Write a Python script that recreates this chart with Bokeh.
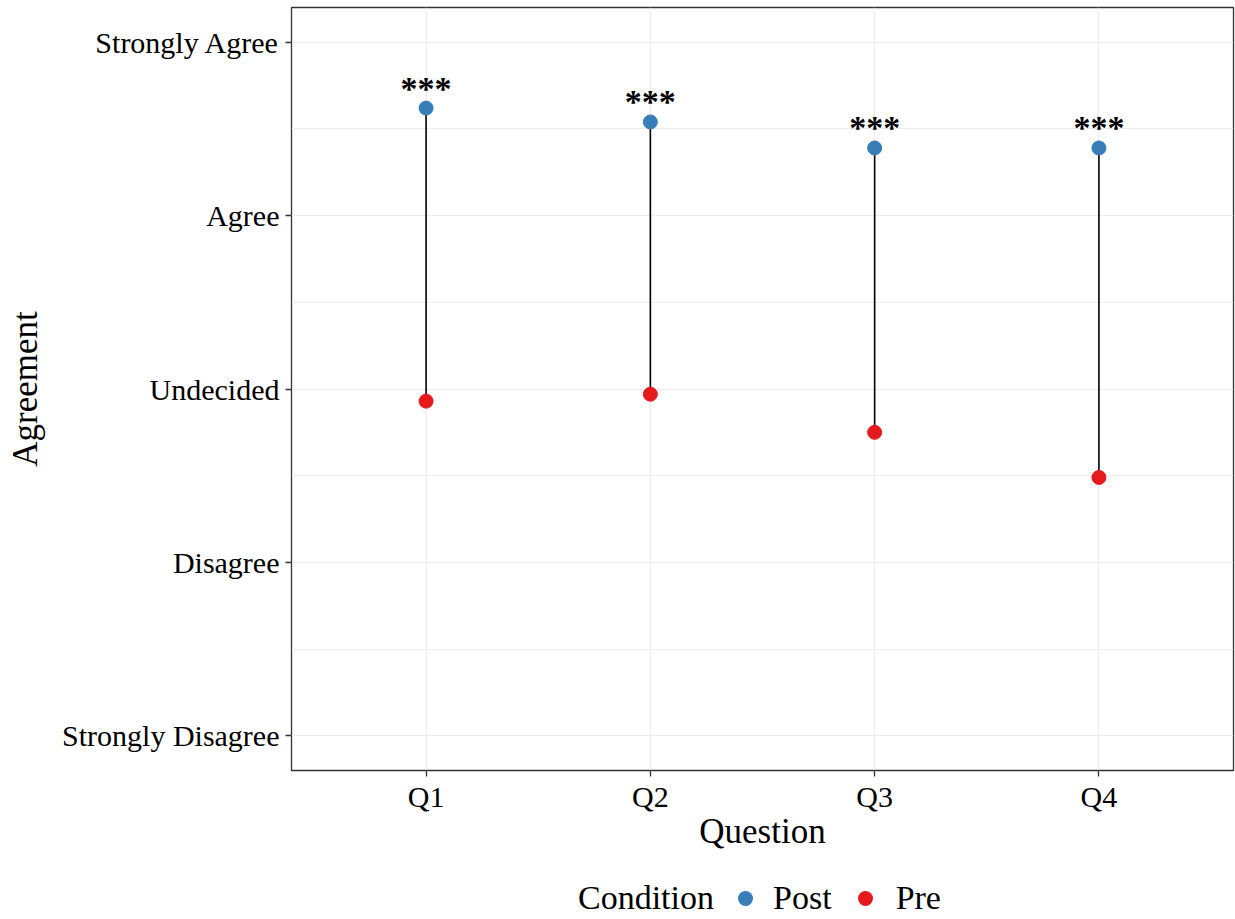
from bokeh.plotting import figure
from bokeh.layouts import column
from bokeh.models import Range1d, FixedTicker, ColumnDataSource, Div
from bokeh.core.properties import value
from bokeh.embed import file_html
from bokeh.resources import INLINE

# ---- data ----
questions = ["Q1", "Q2", "Q3", "Q4"]
post_mean = [4.62, 4.54, 4.39, 4.39]
pre_mean = [2.93, 2.97, 2.75, 2.49]
signif = ["***", "***", "***", "***"]
levels = [1, 2, 3, 4, 5]
level_labels = ["Strongly Disagree", "Disagree", "Undecided", "Agree", "Strongly Agree"]
conditions = ["Post", "Pre"]
legend_title = "Condition"
colors = ["#377EB8", "#E41A1C"]

FONT = "Liberation Serif"
xpos = list(range(1, len(questions) + 1))

src = ColumnDataSource(dict(x=xpos, q=questions, post=post_mean, pre=pre_mean, sig=signif))

p = figure(width=1235, height=870, output_backend="svg", toolbar_location=None,
           x_range=Range1d(0.4, 4.6), y_range=Range1d(0.8, 5.2),
           min_border_left=291, min_border_right=2, min_border_top=7, min_border_bottom=100)

p.background_fill_color = "white"
p.border_fill_color = "white"
p.outline_line_color = "#333333"
p.outline_line_width = 1.3

# grid
p.xaxis.ticker = FixedTicker(ticks=xpos)
p.xaxis.major_label_overrides = {x: q for x, q in zip(xpos, questions)}
p.yaxis.ticker = FixedTicker(ticks=levels, minor_ticks=[1.5, 2.5, 3.5, 4.5])
p.yaxis.major_label_overrides = {l: t for l, t in zip(levels, level_labels)}
p.xgrid.grid_line_color = "#EBEBEB"
p.xgrid.grid_line_width = 1.2
p.ygrid.grid_line_color = "#EBEBEB"
p.ygrid.grid_line_width = 1.2
p.ygrid.minor_grid_line_color = "#EBEBEB"
p.ygrid.minor_grid_line_width = 0.9

for ax in (p.xaxis[0], p.yaxis[0]):
    ax.axis_line_color = None
    ax.major_tick_line_color = "#333333"
    ax.major_tick_line_width = 1.3
    ax.major_tick_out = 6
    ax.major_tick_in = 0
    ax.minor_tick_line_color = None
    ax.major_label_text_font = FONT
    ax.major_label_text_font_size = "30px"
    ax.major_label_text_color = "black"
    ax.axis_label_text_font = FONT
    ax.axis_label_text_font_size = "35px"
    ax.axis_label_text_font_style = "normal"
    ax.axis_label_text_color = "black"

p.xaxis.axis_label = "Question"
p.yaxis.axis_label = "Agreement"
p.xaxis.major_label_standoff = 3
p.yaxis.major_label_standoff = 6
p.xaxis.axis_label_standoff = -4
p.yaxis.axis_label_standoff = 14

# segments
p.segment(x0="x", y0="pre", x1="x", y1="post", source=src, line_color="black", line_width=1.6)

# points
p.scatter(x="x", y="post", source=src, size=14, fill_color=colors[0], line_color=colors[0])
p.scatter(x="x", y="pre", source=src, size=14, fill_color=colors[1], line_color=colors[1])

# significance
p.text(x="x", y="post", text="sig", source=src, text_font=value(FONT), text_font_size="34px",
       text_font_style="bold", text_align="center", text_baseline="middle", y_offset=-20,
       text_color="black")

# ---- legend strip below the plot ----
def dot(color, ml):
    return (f'<span style="display:inline-block;width:15px;height:15px;border-radius:50%;'
            f'background:{color};vertical-align:middle;margin-left:{ml}px;"></span>')

def lab(txt, ml):
    return (f'<span style="display:inline-block;vertical-align:middle;margin-left:{ml}px;">'
            f'{txt}</span>')

legend_html = (
    f'<div style="font-family:\'{FONT}\';font-size:34px;color:black;white-space:nowrap;'
    f'line-height:38px;height:38px;padding-top:6px;width:1235px;">'
    + lab(legend_title, 578)
    + dot(colors[0], 24) + lab(conditions[0], 20)
    + dot(colors[1], 26) + lab(conditions[1], 23)
    + '</div>'
)
leg = Div(text=legend_html, width=1235, height=49, margin=0,
          styles={"padding": "0", "margin": "0"})

layout = column(p, leg, spacing=0)
open("out.html", "w").write(file_html(layout, INLINE))
